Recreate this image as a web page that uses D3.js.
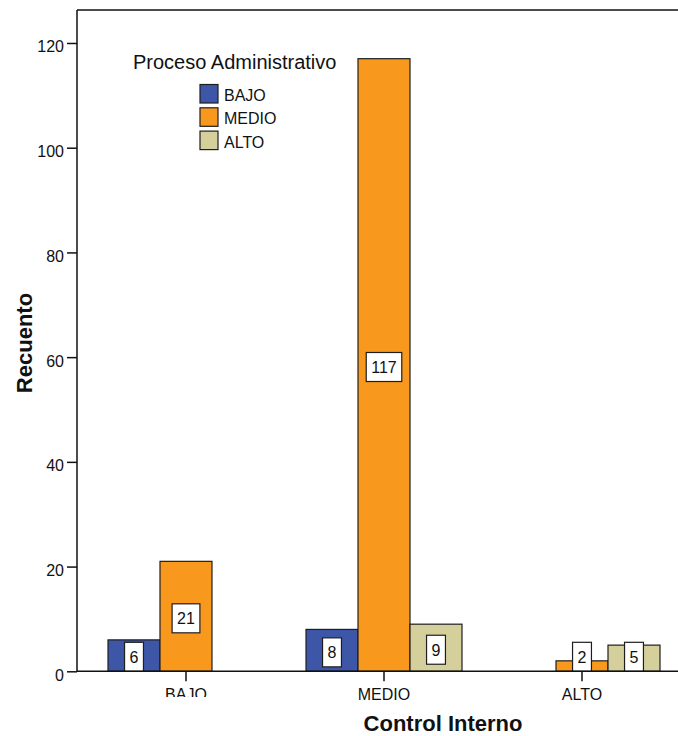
<!DOCTYPE html>
<html>
<head>
<meta charset="utf-8">
<script src="https://cdn.jsdelivr.net/npm/d3@7"></script>
<style>
  html, body { margin: 0; padding: 0; background: #fff; }
  svg { display: block; font-family: "Liberation Sans", Arial, sans-serif; }
</style>
</head>
<body>
<svg id="chart" width="678" height="736"></svg>
<script>
// ---- data ----
const categories = ["BAJO", "MEDIO", "ALTO"];            // Control Interno
const seriesNames = ["BAJO", "MEDIO", "ALTO"];           // Proceso Administrativo
const valuesBajo  = [6, 8, 0];
const valuesMedio = [21, 117, 2];
const valuesAlto  = [0, 9, 5];
const yTicks = [0, 20, 40, 60, 80, 100, 120];
const colors = ["#3d56a8", "#f8991d", "#d5d09b"];

const seriesValues = [valuesBajo, valuesMedio, valuesAlto];
const rows = [];
categories.forEach((c, ci) => {
  seriesNames.forEach((s, si) => {
    rows.push({ cat: c, series: s, si, value: seriesValues[si][ci] });
  });
});

const svg = d3.select("#chart");
const W = 678;
const mLeft = 77, mTop = 10, mBottom = 671.3;

const x = d3.scaleBand().domain(categories).range([87, 681]).padding(0);
const step = x.bandwidth();
const x1 = d3.scaleBand().domain(seriesNames).range([(step - 156) / 2, (step + 156) / 2]).padding(0);
const y = d3.scaleLinear().domain([0, 126.3]).range([mBottom, mTop]);

// ---- bars ----
const bars = svg.append("g");
bars.selectAll("rect").data(rows.filter(d => d.value > 0)).join("rect")
  .attr("x", d => x(d.cat) + x1(d.series))
  .attr("y", d => y(d.value))
  .attr("width", x1.bandwidth())
  .attr("height", d => y(0) - y(d.value))
  .attr("fill", d => colors[d.si])
  .attr("stroke", "#1e1e1e")
  .attr("stroke-width", 1.2);

// ---- value labels ----
const lab = svg.append("g");
rows.filter(d => d.value > 0).forEach(d => {
  const cx = x(d.cat) + x1(d.series) + x1.bandwidth() / 2;
  let cy = (y(d.value) + y(0)) / 2 + 2;
  const h = 29;
  if (cy + h / 2 > y(0)) cy = y(0) - h / 2;
  const g = lab.append("g");
  const r = g.append("rect");
  const t = g.append("text")
    .attr("x", cx).attr("y", cy + 6)
    .attr("text-anchor", "middle")
    .attr("font-size", 16).attr("fill", "#111")
    .text(d.value);
  const w = t.node().getComputedTextLength() + 10;
  r.attr("x", cx - w / 2).attr("y", cy - h / 2)
    .attr("width", w).attr("height", h)
    .attr("fill", "#fff").attr("stroke", "#1e1e1e").attr("stroke-width", 1.2);
});

// ---- y axis ----
const yAxis = svg.append("g").attr("transform", `translate(${mLeft},0)`)
  .call(d3.axisLeft(y).tickValues(yTicks).tickSize(10).tickSizeOuter(0).tickPadding(3));
yAxis.select(".domain").remove();
yAxis.selectAll(".tick line").attr("stroke", "#111").attr("stroke-width", 1.5);
yAxis.selectAll(".tick text").attr("font-size", 16).attr("fill", "#111")
  .attr("font-family", "Liberation Sans, Arial, sans-serif").attr("dy", "0.56em");

// ---- x axis ----
svg.append("clipPath").attr("id", "clipBajo")
  .append("rect").attr("x", -100).attr("y", -100).attr("width", 200).attr("height", 100 + (697 - mBottom));
const xAxis = svg.append("g").attr("transform", `translate(0,${mBottom})`)
  .call(d3.axisBottom(x).tickSize(10).tickSizeOuter(0).tickPadding(7));
xAxis.select(".domain").remove();
xAxis.selectAll(".tick line").attr("stroke", "#111").attr("stroke-width", 1.5);
xAxis.selectAll(".tick text").attr("font-size", 16).attr("fill", "#111")
  .attr("font-family", "Liberation Sans, Arial, sans-serif");
// the first category label is cut off at the bottom in the reference
xAxis.selectAll(".tick").filter(d => d === "BAJO").attr("clip-path", "url(#clipBajo)");

// ---- frame ----
const frame = svg.append("g").attr("stroke", "#111").attr("stroke-width", 1.5).attr("fill", "none");
frame.append("line").attr("x1", mLeft).attr("x2", mLeft).attr("y1", mTop).attr("y2", mBottom);
frame.append("line").attr("x1", mLeft).attr("x2", W).attr("y1", mTop).attr("y2", mTop);
frame.append("line").attr("x1", mLeft).attr("x2", W).attr("y1", mBottom).attr("y2", mBottom);

// ---- axis titles ----
svg.append("text")
  .attr("transform", `translate(32,343) rotate(-90)`)
  .attr("text-anchor", "middle").attr("font-size", 22).attr("font-weight", "bold").attr("fill", "#111")
  .text("Recuento");
svg.append("text")
  .attr("x", 443).attr("y", 731)
  .attr("text-anchor", "middle").attr("font-size", 22).attr("font-weight", "bold").attr("fill", "#111")
  .text("Control Interno");

// ---- legend ----
const leg = svg.append("g");
leg.append("text").attr("x", 133).attr("y", 69).attr("font-size", 20).attr("fill", "#111")
  .text("Proceso Administrativo");
seriesNames.forEach((s, i) => {
  leg.append("rect").attr("x", 200).attr("y", 84.5 + i * 23.3).attr("width", 18).attr("height", 18.5)
    .attr("fill", colors[i]).attr("stroke", "#1e1e1e").attr("stroke-width", 1.2);
  leg.append("text").attr("x", 224).attr("y", 101 + i * 23.3).attr("font-size", 16).attr("fill", "#111")
    .text(s);
});
</script>
</body>
</html>
